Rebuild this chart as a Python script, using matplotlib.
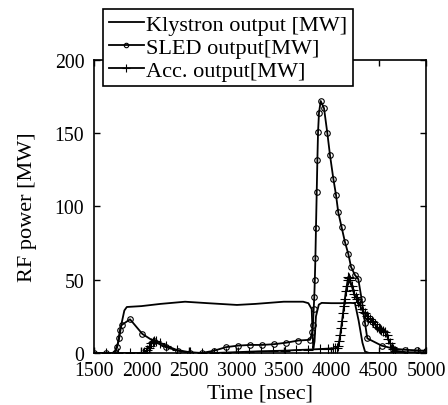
import matplotlib
matplotlib.use("Agg")
import matplotlib.pyplot as plt

plt.rcParams['font.family'] = ['Liberation Serif', 'DejaVu Serif']

# Klystron output [MW]
kly_t = [1500, 1700, 1720, 1760, 1790, 1820, 1846, 2000, 2200, 2460, 2700, 3007,
         3200, 3500, 3705, 3760, 3795, 3805, 3812, 3825, 3840, 3870, 3900, 4000,
         4100, 4200, 4251, 4290, 4330, 4357, 4400, 5000]
kly_v = [0, 0, 1, 8, 20, 29, 31.4, 32, 33.5, 35, 34, 32.8,
         33.5, 35, 35, 34, 30, 12, 3, 8, 25, 33, 34.2, 34,
         34, 34.2, 34, 22, 7, 1, 0, 0]

# SLED output [MW]
sled_t = [1500, 1627, 1720, 1745, 1760, 1775, 1790, 1880, 2010, 2130, 2255, 2390,
          2512, 2635, 2762, 2892, 3015, 3145, 3271, 3397, 3524, 3654, 3777,
          3800, 3808, 3816, 3822, 3828, 3834, 3840, 3848, 3855, 3862, 3872, 3890,
          3925, 3960, 3988, 4023, 4051, 4075, 4110, 4146, 4181, 4210, 4251, 4286,
          4321, 4357, 4381, 4533, 4656, 4779, 4909, 5000]
sled_v = [0, 0, 0, 4, 10, 16, 19, 23, 13, 8, 4, 1.5,
          0, 0, 1.5, 4, 5, 5.5, 5.5, 6, 7, 8.5, 9,
          14, 19, 30, 38, 50, 65, 85, 110, 132, 151, 164, 172,
          167, 150, 135, 119, 108, 96, 86, 75.6, 67.6, 58.7, 53.2, 50.5,
          36.9, 20.5, 10, 5, 3, 2.2, 1.8, 1.5]

# Acc. output [MW]
acc_t = [1500, 1627, 1753, 1880, 2000, 2015, 2030, 2045, 2060, 2075, 2090, 2105,
         2120, 2135, 2150, 2200, 2260, 2375, 2512, 2640, 2765, 2890, 3015, 3135,
         3260, 3390, 3515, 3630, 3757, 3885, 3970, 4020, 4040, 4060, 4075, 4085,
         4095, 4105, 4115, 4125, 4135, 4145, 4155, 4165, 4175, 4181, 4190, 4200,
         4216, 4230, 4245, 4260, 4269, 4285, 4300, 4321, 4340, 4358, 4374, 4390,
         4410, 4430, 4444, 4460, 4480, 4500, 4515, 4530, 4550, 4568, 4585, 4603,
         4620, 4638, 4655, 4673, 4795, 4916, 5000]
acc_v = [0, 0, 0, 0, 0, 0, 0.5, 1, 2, 3.5, 5, 6.5,
         7.5, 8.3, 8.5, 7, 5, 2, 0.5, 0, 0, 0.3, 0.6, 0.9,
         1.2, 1.4, 1.6, 2, 2.3, 2.7, 3, 3.2, 3.3, 3.5, 5, 8,
         12, 17, 22, 27, 32, 37, 42, 46, 50, 52, 51.5, 50,
         46, 43, 40, 38, 37, 35, 33, 30, 28, 27, 25.5, 24,
         23, 22, 21, 19.5, 18, 17, 16.4, 15.5, 15, 14.3, 12, 9.5,
         7, 4, 2.5, 1.6, 0.5, 0.5, 0.5]

fig = plt.figure(figsize=(4.48, 4.06), dpi=100)
ax = fig.add_axes([0.2098, 0.1281, 0.7411, 0.7217])

ax.plot(kly_t, kly_v, color='black', lw=1.3, label='Klystron output [MW]')
ax.plot(sled_t, sled_v, color='black', lw=1.3, marker='o', ms=4,
        mfc='none', mew=0.8, label='SLED output[MW]')
ax.plot(acc_t, acc_v, color='black', lw=1.3, marker='+', ms=7,
        mew=0.8, label='Acc. output[MW]')

ax.set_xlim(1500, 5000)
ax.set_ylim(0, 200)
ax.set_xticks(range(1500, 5001, 500))
ax.set_yticks(range(0, 201, 50))
ax.tick_params(direction='in', top=True, right=True, length=4, width=1,
               labelsize=14.2)
ax.tick_params(axis='x', pad=6)
ax.tick_params(axis='y', pad=7)
for s in ax.spines.values():
    s.set_linewidth(1.2)

ax.set_xlabel('Time [nsec]', fontsize=16, labelpad=2)
ax.set_ylabel('RF power [MW]', fontsize=16, labelpad=13)

leg = ax.legend(loc='upper left', bbox_to_anchor=(0.027, 1.174), fontsize=16,
                frameon=True, fancybox=False, framealpha=1, edgecolor='black',
                handlelength=1.6, handletextpad=0.1, borderpad=0.25,
                labelspacing=0.1, borderaxespad=0, markerscale=0.8)
leg.get_frame().set_linewidth(1.2)

fig.savefig('out.png', dpi=100)
